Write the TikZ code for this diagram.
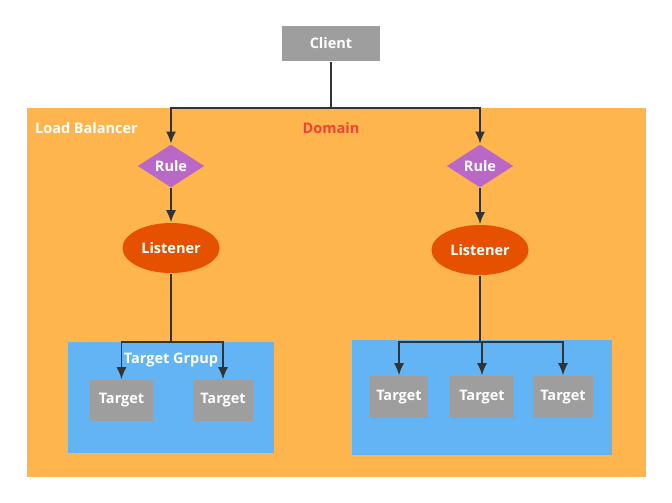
\documentclass[tikz,border=0pt]{standalone}
\usepackage{fontspec}
\setmainfont{Open Sans}
\usetikzlibrary{shapes.geometric,arrows.meta}
\definecolor{lbfill}{RGB}{255,181,77}
\definecolor{grpfill}{RGB}{99,180,245}
\definecolor{boxgray}{RGB}{158,158,158}
\definecolor{rulefill}{RGB}{186,104,200}
\definecolor{lisfill}{RGB}{230,81,0}
\definecolor{domred}{RGB}{244,67,54}
\definecolor{wire}{RGB}{51,51,51}
\tikzset{
  txt/.style={font=\fontsize{14.5}{16}\selectfont\bfseries},
  graybox/.style={txt,fill=boxgray,text=white,inner sep=0pt},
  rulebox/.style={txt,diamond,fill=rulefill,text=white,inner sep=0pt,minimum width=67pt,minimum height=43pt},
  lisbox/.style={txt,ellipse,fill=lisfill,text=white,inner sep=0pt,minimum width=97pt,minimum height=50pt},
  grpbox/.style={fill=grpfill,inner sep=0pt},
  arr/.style={-{Latex[length=12pt,width=10pt]}},
}
\begin{document}
\begin{tikzpicture}[x=1pt,y=-1pt,line width=1.6pt,draw=wire]
\useasboundingbox (0,0) rectangle (672,503);
% load balancer area
\fill[lbfill] (27,108) rectangle (646,477);
\node[txt,text=white,anchor=west] (lbl) at (31,128) {Load Balancer};
\node[txt,text=domred] (dom) at (331,128) {Domain};
% client
\node[graybox,minimum width=98pt,minimum height=35pt] (client) at (331,43.5) {Client};
% rules and listeners
\node[rulebox] (rule1) at (171,166) {Rule};
\node[rulebox] (rule2) at (480,166) {Rule};
\node[lisbox] (lis1) at (171,248) {Listener};
\node[lisbox] (lis2) at (480,250) {Listener};
% target groups
\node[grpbox,minimum width=206pt,minimum height=111pt] (grp1) at (171,397.5) {};
\node[grpbox,minimum width=260pt,minimum height=115pt] (grp2) at (482,397.5) {};
\node[txt,text=white] (grplbl) at (171,360) {Target Grpup};
\node[graybox,minimum width=63pt,minimum height=41pt] (t11) at (121.5,400.5) {Target};
\node[graybox,minimum width=60pt,minimum height=41pt] (t12) at (223,400.5) {Target};
\node[graybox,minimum width=58pt,minimum height=42pt] (t21) at (399,397) {Target};
\node[graybox,minimum width=64pt,minimum height=42pt] (t22) at (482,397) {Target};
\node[graybox,minimum width=60pt,minimum height=42pt] (t23) at (563,397) {Target};
% connectors
\coordinate (split) at (331,108);
\coordinate (fork1) at (171,342);
\coordinate (fork2) at (480,342);
\draw (client.south) -- (split);
\draw[arr] (split) -| (rule1.north);
\draw[arr] (split) -| (rule2.north);
\draw[arr] (rule1) -- (lis1);
\draw[arr] (rule2) -- (lis2);
\draw (lis1.south) -- (fork1);
\draw (lis2.south) -- (fork2);
\draw[arr] (fork1) -| (t11.north);
\draw[arr] (fork1) -| (t12.north);
\draw[arr] (fork2) -| (t21.north);
\draw[arr] (fork2) -| (t22.north);
\draw[arr] (fork2) -| (t23.north);
\end{tikzpicture}
\end{document}
